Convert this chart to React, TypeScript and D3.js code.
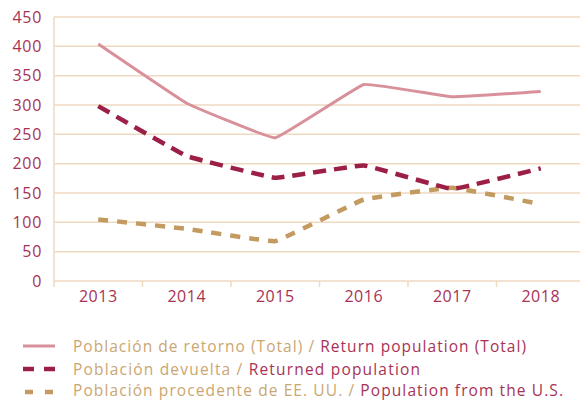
import React, { useEffect, useRef } from 'react';
import * as d3 from 'd3';

// Chart data
const years = ['2013', '2014', '2015', '2016', '2017', '2018'];
const totalReturn = [404, 303, 244, 335, 314, 323];
const returnedPop = [298, 213, 176, 197, 157, 192];
const fromUS = [105, 89, 68, 139, 159, 131];
const yTicks = [0, 50, 100, 150, 200, 250, 300, 350, 400, 450];

const seriesEs = ['Población de retorno (Total)', 'Población devuelta', 'Población procedente de EE. UU.'];
const seriesEn = ['Return population (Total)', 'Returned population', 'Population from the U.S.'];

const App = () => {
  const svgRef = useRef<SVGSVGElement>(null);

  useEffect(() => {
    const svg = d3.select(svgRef.current);
    svg.selectAll('*').remove();

    const font = '"Open Sans", sans-serif';
    const axisText = '#a83256';
    const gridColor = '#efd9c0';
    const left = 54, right = 585, top = 17, bottom = 281;

    const x = d3.scaleBand().domain(years).range([left, right]);
    const y = d3.scaleLinear().domain([0, 450]).range([bottom, top]);

    // gridlines
    svg.append('g').selectAll('line').data(yTicks).enter().append('line')
      .attr('x1', left).attr('x2', right)
      .attr('y1', d => y(d)).attr('y2', d => y(d))
      .attr('stroke', gridColor).attr('stroke-width', 1.5);

    // y axis line
    svg.append('line').attr('x1', left).attr('x2', left).attr('y1', top).attr('y2', bottom + 6)
      .attr('stroke', gridColor).attr('stroke-width', 1.5);

    // x ticks
    svg.append('g').selectAll('line').data(years.slice(1)).enter().append('line')
      .attr('x1', d => x(d)!).attr('x2', d => x(d)!)
      .attr('y1', bottom).attr('y2', bottom + 6)
      .attr('stroke', gridColor).attr('stroke-width', 1.5);

    // y tick labels
    svg.append('g').selectAll('text').data(yTicks).enter().append('text')
      .attr('x', 42).attr('y', d => y(d)).attr('dy', '0.35em')
      .attr('text-anchor', 'end')
      .style('font-family', font).style('font-size', '16px').style('letter-spacing', '0.7px')
      .attr('fill', axisText)
      .text(d => d);

    // x tick labels
    svg.append('g').selectAll('text').data(years).enter().append('text')
      .attr('x', d => x(d)! + x.bandwidth() / 2).attr('y', 302)
      .attr('text-anchor', 'middle')
      .style('font-family', font).style('font-size', '16px').style('letter-spacing', '0.5px')
      .attr('fill', axisText)
      .text(d => d);

    const line = d3.line<number>()
      .x((_, i) => x(years[i])! + x.bandwidth() / 2)
      .y(d => y(d))
      .curve(d3.curveCardinal.tension(0.8));

    const styles = [
      { data: totalReturn, color: '#d8919a', width: 3, dash: null as string | null },
      { data: returnedPop, color: '#9c1f45', width: 4.5, dash: '13,8' },
      { data: fromUS, color: '#c39a5f', width: 4.5, dash: '10,9' },
    ];

    styles.slice().reverse().forEach(s => {
      const p = svg.append('path').attr('d', line(s.data))
        .attr('fill', 'none').attr('stroke', s.color).attr('stroke-width', s.width);
      if (s.dash) p.attr('stroke-dasharray', s.dash);
    });

    // legend
    const legendY = [346, 369, 392];
    const baselines = [352, 375, 396];
    const legendWidths = [453, 347, 490];
    styles.forEach((s, i) => {
      const g = svg.append('g');
      const ly = legendY[i];
      if (i === 0) {
        g.append('line').attr('x1', 23).attr('x2', 55).attr('y1', ly).attr('y2', ly)
          .attr('stroke', s.color).attr('stroke-width', 3);
      } else {
        const segs = i === 1 ? [[23, 34], [44, 55]] : [[25, 33], [45, 53]];
        segs.forEach(([a, b]) => {
          g.append('line').attr('x1', a).attr('x2', b).attr('y1', ly).attr('y2', ly)
            .attr('stroke', s.color).attr('stroke-width', 4.5);
        });
      }
      const t = g.append('text').attr('x', 73).attr('y', baselines[i])
        .attr('textLength', legendWidths[i]).attr('lengthAdjust', 'spacing')
        .style('font-family', font).style('font-size', '15.5px');
      t.append('tspan').attr('fill', '#caa672').text(seriesEs[i] + ' / ');
      t.append('tspan').attr('fill', axisText).text(seriesEn[i]);
    });
  }, []);

  return (
    <svg ref={svgRef} width={580} height={401}
      style={{ position: 'absolute', left: 0, top: 0, background: '#fff' }} />
  );
};

export default App;
